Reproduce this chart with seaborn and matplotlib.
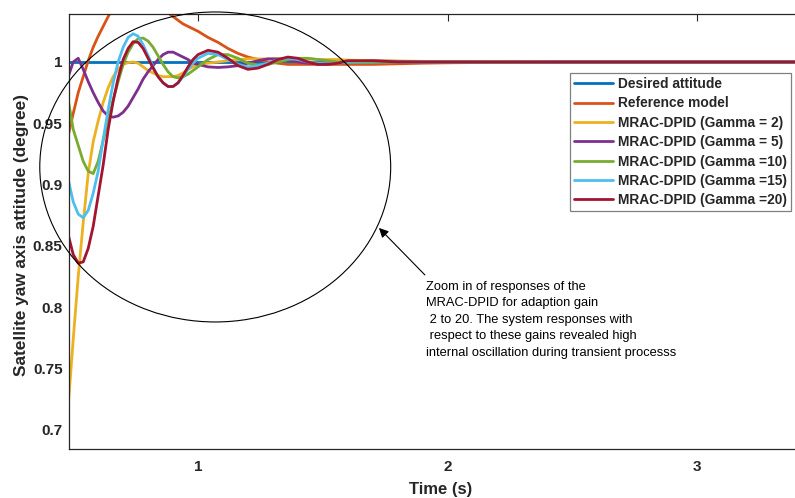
import numpy as np
import pandas as pd
import matplotlib
matplotlib.use("Agg")
import matplotlib.pyplot as plt
import seaborn as sns
from matplotlib.patches import Ellipse

# ---------------- data ----------------
t = [0.48, 0.50, 0.52, 0.54, 0.56, 0.58, 0.60, 0.62, 0.64, 0.66, 0.68, 0.70, 0.72,
     0.74, 0.76, 0.78, 0.80, 0.82, 0.84, 0.86, 0.88, 0.90, 0.92, 0.94, 0.96, 0.98,
     1.00, 1.04, 1.08, 1.12, 1.16, 1.20, 1.24, 1.28, 1.32, 1.36, 1.40, 1.44, 1.48,
     1.52, 1.56, 1.60, 1.70, 1.80, 1.90, 2.00, 2.20, 2.50, 3.00, 3.42]

desired_t = [0.48, 3.42]
desired = [1.0, 1.0]

reference = [0.940, 0.958, 0.975, 0.988, 1.001, 1.012, 1.021, 1.029, 1.037, 1.044, 1.050, 1.054, 1.057,
             1.059, 1.060, 1.059, 1.057, 1.053, 1.049, 1.044, 1.040, 1.037, 1.034, 1.031, 1.029, 1.027,
             1.025, 1.020, 1.016, 1.011, 1.007, 1.004, 1.002, 1.000, 0.999, 0.998, 0.998, 0.998, 0.998,
             0.998, 0.998, 0.998, 0.998, 0.9985, 0.999, 0.9993, 0.9997, 1.000, 1.000, 1.000]

gamma2 = [0.720, 0.774, 0.825, 0.869, 0.909, 0.935, 0.952, 0.967, 0.979, 0.988, 0.994, 0.998, 0.9995,
          1.000, 0.999, 0.996, 0.993, 0.991, 0.989, 0.988, 0.988, 0.988, 0.989, 0.991, 0.994, 0.996,
          0.998, 0.999, 1.000, 1.001, 1.002, 1.0025, 1.0025, 1.0025, 1.0025, 1.0025, 1.0025, 1.0025, 1.002,
          1.002, 1.002, 1.0015, 1.001, 1.0008, 1.0005, 1.0003, 1.000, 1.000, 1.000, 1.000]

gamma5 = [0.988, 1.000, 1.003, 0.994, 0.984, 0.975, 0.967, 0.960, 0.956, 0.955, 0.956, 0.959, 0.964,
          0.971, 0.978, 0.986, 0.992, 0.997, 1.002, 1.006, 1.008, 1.008, 1.006, 1.004, 1.002, 0.999,
          0.998, 0.996, 0.9955, 0.996, 0.997, 0.999, 1.001, 1.0025, 1.0025, 1.0015, 1.000, 0.999, 0.9985,
          0.999, 0.9995, 1.000, 1.0008, 1.0005, 1.000, 1.000, 1.000, 1.000, 1.000, 1.000]

gamma10 = [0.969, 0.945, 0.932, 0.919, 0.911, 0.909, 0.919, 0.936, 0.952, 0.969, 0.984, 0.998, 1.008,
           1.015, 1.019, 1.0195, 1.017, 1.012, 1.005, 0.998, 0.992, 0.988, 0.987, 0.988, 0.990, 0.993,
           0.996, 1.002, 1.006, 1.006, 1.003, 0.999, 0.9975, 0.998, 1.000, 1.002, 1.003, 1.003, 1.002,
           1.001, 1.000, 0.9995, 0.9995, 1.000, 1.000, 1.000, 1.000, 1.000, 1.000, 1.000]

gamma15 = [0.904, 0.886, 0.876, 0.873, 0.879, 0.893, 0.911, 0.937, 0.961, 0.983, 1.000, 1.012, 1.020,
           1.023, 1.021, 1.014, 1.005, 0.996, 0.988, 0.983, 0.980, 0.980, 0.983, 0.988, 0.994, 0.999,
           1.003, 1.007, 1.006, 1.002, 0.998, 0.996, 0.997, 0.999, 1.002, 1.003, 1.002, 1.000, 0.999,
           0.9985, 0.999, 1.000, 1.0005, 1.000, 1.000, 1.000, 1.000, 1.000, 1.000, 1.000]

gamma20 = [0.859, 0.843, 0.836, 0.837, 0.848, 0.866, 0.891, 0.916, 0.945, 0.968, 0.987, 1.002, 1.011,
           1.0165, 1.016, 1.011, 1.003, 0.995, 0.988, 0.983, 0.980, 0.980, 0.983, 0.989, 0.996, 1.002,
           1.006, 1.0095, 1.008, 1.003, 0.997, 0.994, 0.995, 0.998, 1.002, 1.004, 1.003, 1.000, 0.998,
           0.998, 0.999, 1.001, 1.001, 1.000, 1.000, 1.000, 1.000, 1.000, 1.000, 1.000]

names = ["Desired attitude", "Reference model", "MRAC-DPID (Gamma = 2)",
         "MRAC-DPID (Gamma = 5)", "MRAC-DPID (Gamma =10)", "MRAC-DPID (Gamma =15)",
         "MRAC-DPID (Gamma =20)"]
colors = ["#0072BD", "#D95319", "#EDB120", "#7E2F8E", "#77AC30", "#4DBEEE", "#A2142F"]

x_ticks = [1, 2, 3]
y_ticks = [0.7, 0.75, 0.8, 0.85, 0.9, 0.95, 1.0]
y_tick_labels = ["0.7", "0.75", "0.8", "0.85", "0.9", "0.95", "1"]

note_lines = ["Zoom in of responses of the",
              "MRAC-DPID for adaption gain",
              " 2 to 20. The system responses with",
              " respect to these gains revealed high",
              "internal oscillation during transient processs"]

# ---------------- build long table ----------------
frames = [pd.DataFrame({"t": desired_t, "y": desired, "s": names[0]})]
for n, v in zip(names[1:], [reference, gamma2, gamma5, gamma10, gamma15, gamma20]):
    frames.append(pd.DataFrame({"t": t, "y": v, "s": n}))
df = pd.concat(frames, ignore_index=True)

# ---------------- style ----------------
sns.set_theme(style="white")
plt.rcParams["font.family"] = ["Liberation Sans", "DejaVu Sans"]
dark = "#262626"

fig = plt.figure(figsize=(7.95, 4.98), dpi=100)
ax = fig.add_axes([0.0874, 0.0984, 0.9214, 0.8735])

sns.lineplot(data=df, x="t", y="y", hue="s", hue_order=names, palette=colors,
             linewidth=2.0, estimator=None, sort=False, ax=ax)

ax.set_xlim(0.485, 3.42)
ax.set_ylim(0.6845, 1.0391)
ax.set_xticks(x_ticks)
ax.set_xticklabels([str(v) for v in x_ticks])
ax.set_yticks(y_ticks)
ax.set_yticklabels(y_tick_labels)
ax.tick_params(axis="both", direction="in", top=True, right=True, length=5,
               width=0.8, color=dark, labelsize=11, labelcolor=dark)
ax.tick_params(axis="x", pad=8)
ax.tick_params(axis="y", pad=5)
for lab in ax.get_xticklabels() + ax.get_yticklabels():
    lab.set_fontweight("bold")
for sp in ax.spines.values():
    sp.set_visible(True)
    sp.set_color(dark)
    sp.set_linewidth(0.9)

ax.set_xlabel("Time (s)", fontsize=12, fontweight="bold", color=dark)
ax.set_ylabel("Satellite yaw axis attitude (degree)", fontsize=12.4,
              fontweight="bold", color=dark)
ax.xaxis.set_label_coords(0.506, -0.075)
ax.yaxis.set_label_coords(-0.0546, 0.492)

handles, labels = ax.get_legend_handles_labels()
leg = ax.legend(handles, labels, loc="upper right",
                bbox_to_anchor=(791 / 795, 1 - 73 / 498),
                bbox_transform=fig.transFigure, borderaxespad=0,
                frameon=True, fancybox=False, edgecolor="#808080",
                framealpha=1, prop={"weight": "bold", "size": 9.9},
                handlelength=2.8, handletextpad=0.4, labelspacing=0.39,
                borderpad=0.3)
leg.get_frame().set_linewidth(0.9)
for line in leg.get_lines():
    line.set_linewidth(2.0)

# ellipse highlighting the transient region
ell = Ellipse((1.069, 0.9144), 1.406, 0.2527, fill=False, edgecolor="black",
              linewidth=0.8, clip_on=False, zorder=6)
ax.add_patch(ell)

ax.annotate("", xy=(1.725, 0.8647), xytext=(1.909, 0.8264),
            arrowprops=dict(arrowstyle="-|>", color="black", lw=0.8,
                            mutation_scale=14, shrinkA=0, shrinkB=0))
ax.text(1.913, 0.8215, "\n".join(note_lines), fontsize=9.3, va="top",
        ha="left", fontweight="normal", color="black", linespacing=1.5)

fig.savefig("out.png", dpi=100)
